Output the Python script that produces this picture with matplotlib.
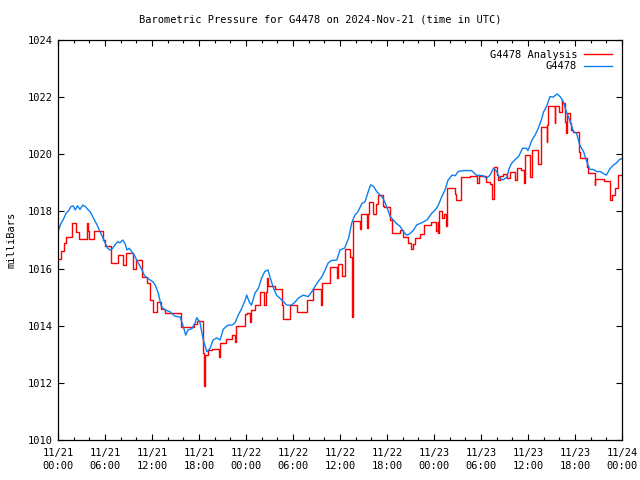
import matplotlib
matplotlib.use("Agg")
import matplotlib.pyplot as plt
from matplotlib.ticker import MultipleLocator, FixedLocator

# hours since 2024-11-21 00:00 UTC
blue_h = [0.0, 0.38, 0.68, 1.02, 1.36, 1.66, 1.96, 2.2, 2.5, 2.8, 3.15, 3.5, 3.8, 4.1, 4.43, 4.77,
          5.06, 5.36, 5.7, 6.04, 6.34, 6.64, 6.98, 7.28, 7.62, 7.9, 8.26, 8.55, 8.8, 9.1, 9.4, 9.75,
          10.04, 10.38, 10.7, 11.0, 11.3, 11.66, 12.1, 12.4, 12.8, 13.2, 13.66, 14.3, 14.9, 15.6,
          16.0, 16.3, 16.6, 17.1, 17.5, 17.7, 18.1, 18.55, 19.0, 19.4, 19.8, 20.26, 20.7, 21.1,
          21.7, 22.2, 22.6, 23.0, 23.45, 23.9, 24.1, 24.4, 24.7, 25.15, 25.6, 26.0, 26.4, 26.8,
          27.1, 27.5, 27.9, 28.3, 28.8, 29.2, 29.8, 30.3, 30.7, 31.3, 31.95, 32.4, 32.8, 33.2,
          33.7, 34.1, 34.5, 34.9, 35.6, 36.0, 36.6, 37.1, 37.5, 37.9, 38.3, 38.8, 39.2, 39.6,
          39.9, 40.3, 40.7, 41.1, 41.5, 41.96, 42.4, 42.8, 43.2, 43.7, 44.1, 44.5, 44.9, 45.4,
          45.8, 46.4, 47.1, 47.7, 48.3, 48.55, 49.0, 49.4, 49.8, 50.3, 50.7, 51.1, 51.5, 52.0,
          52.8, 53.4, 54.3, 54.7, 55.15, 55.6, 56.0, 56.4, 56.8, 57.3, 57.6, 57.9, 58.3, 58.8,
          59.3, 59.8, 60.0, 60.5, 60.9, 61.3, 61.7, 62.0, 62.4, 62.8, 63.2, 63.7, 64.1, 64.5,
          64.9, 65.4, 65.8, 66.2, 66.6, 67.1, 67.5, 67.9, 68.3, 68.8, 69.2, 69.6, 70.0, 70.5,
          70.9, 71.3, 71.7, 72.0]
blue_v = [1017.3, 1017.58, 1017.72, 1017.93, 1018.03, 1018.17, 1018.19, 1018.05, 1018.2, 1018.07,
          1018.22, 1018.17, 1018.07, 1017.99, 1017.82, 1017.64, 1017.49, 1017.29, 1017.1, 1016.88,
          1016.71, 1016.65, 1016.71, 1016.83, 1016.94, 1016.9, 1017.0, 1016.88, 1016.65, 1016.71,
          1016.6, 1016.47, 1016.3, 1016.13, 1015.97, 1015.77, 1015.69, 1015.62, 1015.54, 1015.43,
          1015.14, 1014.67, 1014.55, 1014.49, 1014.34, 1014.3, 1013.97, 1013.67, 1013.85, 1013.9,
          1014.1, 1014.28, 1014.14, 1013.5, 1013.09, 1013.2, 1013.5, 1013.57, 1013.5, 1013.88,
          1014.02, 1014.02, 1014.1, 1014.37, 1014.6, 1014.9, 1015.07, 1014.84, 1014.72, 1015.14,
          1015.32, 1015.67, 1015.9, 1015.95, 1015.67, 1015.32, 1015.07, 1014.97, 1014.84, 1014.72,
          1014.72, 1014.84, 1014.97, 1015.07, 1015.02, 1015.19, 1015.37, 1015.54, 1015.72, 1015.95,
          1016.2, 1016.28, 1016.3, 1016.65, 1016.72, 1017.07, 1017.6, 1017.87, 1017.99, 1018.28,
          1018.34, 1018.69, 1018.93, 1018.87, 1018.69, 1018.58, 1018.46, 1018.17, 1017.82, 1017.7,
          1017.58, 1017.47, 1017.29, 1017.17, 1017.22, 1017.35, 1017.53, 1017.6, 1017.7, 1017.93,
          1018.1, 1018.22, 1018.52, 1018.75, 1019.1, 1019.27, 1019.25, 1019.4, 1019.42, 1019.43,
          1019.43, 1019.27, 1019.25, 1019.16, 1019.27, 1019.51, 1019.4, 1019.16, 1019.1, 1019.2,
          1019.51, 1019.68, 1019.8, 1019.92, 1020.21, 1020.21, 1020.13, 1020.5, 1020.67, 1020.9,
          1021.2, 1021.49, 1021.69, 1022.02, 1022.0, 1022.11, 1022.02, 1021.84, 1021.49, 1021.14,
          1020.79, 1020.73, 1020.33, 1020.09, 1019.74, 1019.47, 1019.47, 1019.39, 1019.4, 1019.33,
          1019.27, 1019.51, 1019.62, 1019.7, 1019.82, 1019.85]

red_h = [0.0, 0.38, 0.81, 1.02, 1.79, 2.3, 2.72, 3.7, 3.8, 4.0, 4.64, 5.7, 6.04, 6.77, 7.6, 8.26,
         8.68, 9.53, 9.96, 10.72, 11.3, 11.74, 12.08, 12.6, 13.2, 13.66, 15.66, 17.3, 17.7, 18.55,
         18.68, 18.77, 19.2, 19.6, 20.55, 20.68, 21.45, 22.17, 22.6, 22.7, 23.87, 24.1, 24.5, 24.7,
         25.15, 25.8, 26.3, 26.5, 26.64, 26.85, 27.7, 28.55, 28.77, 29.6, 30.5, 31.75, 32.6, 33.6,
         33.75, 34.7, 35.6, 35.7, 36.3, 36.6, 37.3, 37.5, 37.7, 38.5, 38.7, 39.4, 39.6, 39.7, 40.25,
         40.55, 40.9, 41.5, 41.67, 42.4, 42.7, 43.6, 44.1, 44.7, 45.06, 45.3, 45.6, 46.2, 46.7,
         47.6, 48.3, 48.45, 48.5, 48.65, 49.0, 49.3, 49.5, 49.6, 50.7, 50.8, 51.5, 52.6, 53.5,
         53.7, 54.7, 55.15, 55.45, 55.66, 56.1, 56.2, 56.4, 56.85, 57.3, 57.7, 58.3, 58.55, 59.1,
         59.5, 59.6, 60.3, 60.45, 61.3, 61.6, 62.4, 62.47, 62.6, 63.45, 63.5, 63.9, 64.3, 64.4,
         64.7, 64.9, 65.0, 65.4, 65.5, 65.8, 66.5, 66.7, 67.5, 67.7, 68.5, 68.55, 69.75, 70.5,
         70.7, 71.1, 71.45, 72.0]
red_v = [1016.33, 1016.6, 1016.9, 1017.1, 1017.6, 1017.27, 1017.03, 1017.6, 1017.3, 1017.03,
         1017.3, 1017.0, 1016.8, 1016.18, 1016.47, 1016.13, 1016.56, 1015.98, 1016.3, 1015.7,
         1015.5, 1014.9, 1014.48, 1014.83, 1014.6, 1014.45, 1013.97, 1014.05, 1014.17, 1013.04,
         1011.9, 1012.97, 1013.15, 1013.2, 1012.92, 1013.4, 1013.53, 1013.67, 1013.42, 1013.99,
         1014.4, 1014.44, 1014.14, 1014.55, 1014.72, 1015.18, 1014.72, 1015.18, 1015.67, 1015.4,
         1015.28, 1014.72, 1014.23, 1014.72, 1014.49, 1014.9, 1015.28, 1014.72, 1015.5, 1016.05,
         1015.67, 1016.16, 1015.75, 1016.68, 1016.4, 1014.32, 1017.67, 1017.4, 1017.9, 1017.42,
         1017.9, 1018.32, 1017.9, 1018.25, 1018.58, 1018.2, 1018.17, 1017.7, 1017.26, 1017.35,
         1017.1, 1016.9, 1016.68, 1016.85, 1017.06, 1017.2, 1017.53, 1017.64, 1017.3, 1017.64,
         1017.24, 1018.0, 1017.76, 1017.9, 1017.5, 1018.81, 1018.6, 1018.4, 1019.19, 1019.25,
         1018.98, 1019.25, 1019.04, 1018.96, 1018.42, 1019.56, 1019.27, 1019.1, 1019.25, 1019.3,
         1019.16, 1019.37, 1019.1, 1019.53, 1019.45, 1018.98, 1019.97, 1019.22, 1020.15, 1019.66,
         1020.97, 1020.44, 1021.02, 1021.69, 1021.1, 1021.69, 1021.49, 1021.9, 1021.8, 1021.14,
         1020.76, 1021.43, 1021.1, 1020.85, 1020.77, 1020.09, 1019.86, 1019.57, 1019.36, 1018.93,
         1019.12, 1019.06, 1018.4, 1018.58, 1018.81, 1019.27, 1019.27]

xtick_labels = ["11/21\n00:00", "11/21\n06:00", "11/21\n12:00", "11/21\n18:00",
                "11/22\n00:00", "11/22\n06:00", "11/22\n12:00", "11/22\n18:00",
                "11/23\n00:00", "11/23\n06:00", "11/23\n12:00", "11/23\n18:00",
                "11/24\n00:00"]
title = "Barometric Pressure for G4478 on 2024-Nov-21 (time in UTC)"

plt.rcParams['font.family'] = ['DejaVu Sans Mono']
plt.rcParams['font.size'] = 7.5

fig = plt.figure(figsize=(6.4, 4.8), dpi=100)
ax = fig.add_axes([58/640, 40/480, 564/640, 400/480])

ax.plot(red_h, red_v, drawstyle='steps-post', color='#ff0000', lw=1.0, label='G4478 Analysis')
ax.plot(blue_h, blue_v, color='#0a80f0', lw=1.0, label='G4478')

ax.set_xlim(0, 72)
ax.set_ylim(1010, 1024)
ax.xaxis.set_major_locator(FixedLocator(list(range(0, 73, 6))))
ax.set_xticklabels(xtick_labels, linespacing=1.35)
ax.xaxis.set_minor_locator(MultipleLocator(2))
ax.yaxis.set_major_locator(MultipleLocator(2))
ax.tick_params(which='both', direction='in', top=True, right=True, color='black', width=0.8)
ax.tick_params(which='major', length=4.5, pad=4)
ax.tick_params(axis='x', which='major', pad=6)
ax.tick_params(which='minor', length=2.5)
for s in ax.spines.values():
    s.set_linewidth(0.9)

ax.set_ylabel('milliBars', labelpad=8)
fig.text(0.5, 1 - 20/480, title, ha='center', va='center', fontsize=7.5)

ax.legend(loc='upper right', frameon=False, markerfirst=False, handlelength=2.7,
          handletextpad=0.65, borderaxespad=0.75, labelspacing=0.15, fontsize=7.5,
          borderpad=0.2)

fig.savefig('out.png', dpi=100)
